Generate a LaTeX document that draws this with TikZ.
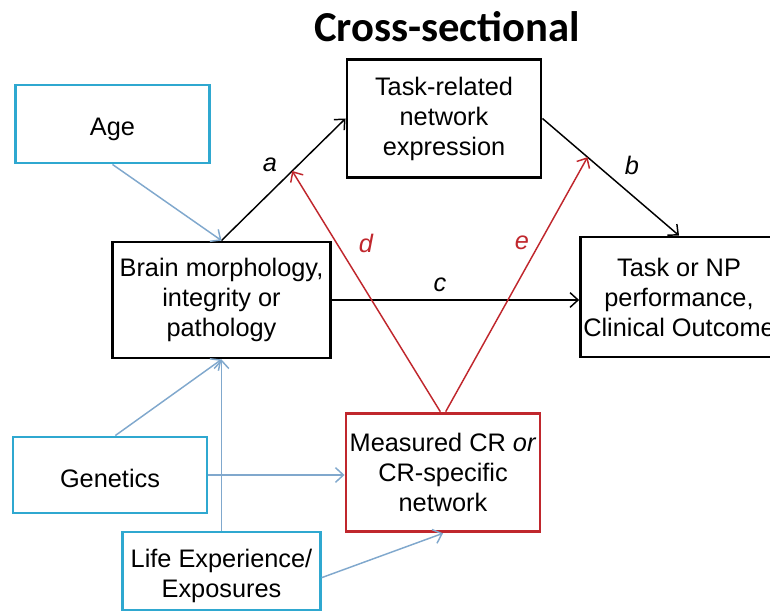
\documentclass[tikz,border=0pt]{standalone}
\usepackage{fontspec}
\setmainfont{Liberation Sans}
\newfontfamily\titlefont{Carlito}
\usetikzlibrary{arrows.meta}
\definecolor{boxblue}{RGB}{47,168,208}
\definecolor{arrblue}{RGB}{128,168,205}
\definecolor{crred}{RGB}{192,39,45}
\tikzset{
  box/.style={draw, line width=2.2pt, align=center, inner sep=2pt,
    font=\fontsize{19}{22.5}\selectfont,
    execute at begin node={\rule{0pt}{18.5pt}}},
  inbox/.style={box, draw=boxblue},
  crbox/.style={box, draw=crred},
  arr/.style={line width=1.1pt, -{Straight Barb[length=6pt,width=11pt]}},
  inarr/.style={arr, draw=arrblue},
  crarr/.style={arr, draw=crred},
  lbl/.style={font=\fontsize{19}{22}\selectfont\itshape}
}
\begin{document}
\begin{tikzpicture}[x=0.75pt,y=-0.75pt]
\useasboundingbox (0,0) rectangle (770,613);
\clip (0,0) rectangle (770,613);
\node[font=\titlefont\bfseries\fontsize{32}{36}\selectfont] (title) at (447,27) {Cross-sectional};
% boxes
\node[inbox, minimum width=146pt, minimum height=58.5pt] (age) at (112.5,124) {\rule{0pt}{21pt}Age};
\node[box, minimum width=145.5pt, minimum height=88pt] (task) at (444,118.5) {Task-related\\network\\expression};
\node[box, minimum width=163pt, minimum height=87pt] (brain) at (221.5,300) {Brain morphology,\\integrity or\\pathology};
\node[box, minimum width=144pt, minimum height=90pt] (outc) at (679,297) {Task or NP\\performance,\\Clinical Outcome};
\node[crbox, minimum width=145.5pt, minimum height=89pt] (meas) at (443,472.5) {Measured CR \textit{or}\\CR-specific\\network};
\node[inbox, minimum width=145.5pt, minimum height=57pt] (gen) at (110,475) {Genetics};
\node[inbox, minimum width=148pt, minimum height=58.5pt] (life) at (221.5,571) {\rule{0pt}{21pt}Life Experience/\\Exposures};
% paths
\draw[arr] (brain.north) -- (task.west) coordinate[pos=0.57] (ha);
\draw[arr] (task.east) -- (outc.north) coordinate[pos=0.33] (hb);
\draw[arr] (brain.east) -- (brain.east -| outc.west);
\draw[crarr] ([xshift=-2pt]meas.north) -- (ha);
\draw[crarr] ([xshift=2pt]meas.north) -- (hb);
\draw[inarr] (age.south) -- (brain.north);
\draw[inarr] ([xshift=4pt]gen.north) -- (brain.south);
\draw[inarr] (life.north) -- (brain.south);
\draw[inarr] (gen.east) -- (gen.east -| meas.west);
\draw[inarr] ([yshift=-5pt]life.east) -- (meas.south);
% labels
\node[lbl] (la) at (270,165) {a};
\node[lbl] (lb) at (632,165) {b};
\node[lbl] (lc) at (440,285) {c};
\node[lbl, text=crred] (ld) at (366,243) {d};
\node[lbl, text=crred] (le) at (522,243) {e};
\end{tikzpicture}
\end{document}
